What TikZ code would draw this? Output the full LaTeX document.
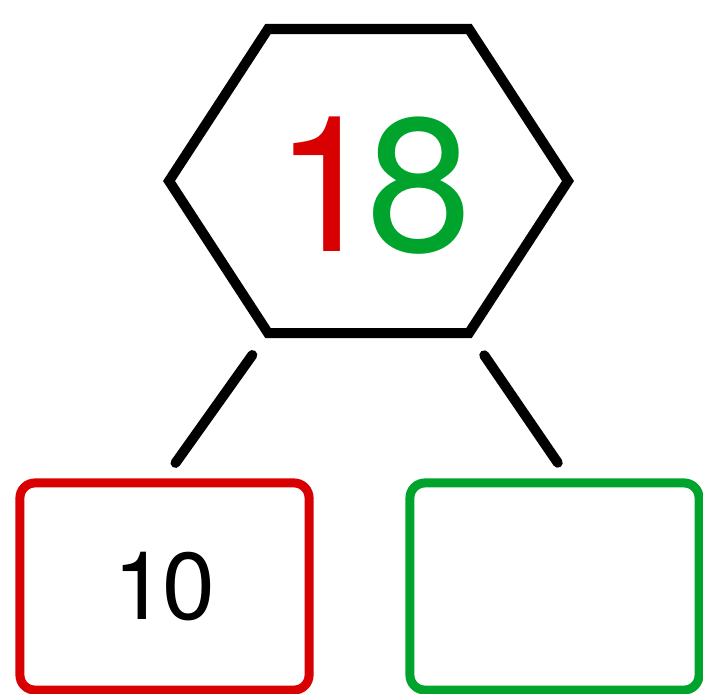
\documentclass[tikz,border=0pt]{standalone}
\usepackage{fontspec}
\setmainfont{TeX Gyre Heros}
\usepackage{tikz}
\usetikzlibrary{calc}
\definecolor{numred}{RGB}{216,0,0}
\definecolor{numgreen}{RGB}{0,164,44}
\tikzstyle{part} = [rectangle, rounded corners=0.15cm, minimum width=2.89cm, minimum height=2.07cm, text centered, line width=0.09cm, font=\fontsize{27}{30}\selectfont]
\tikzstyle{tens} = [part, draw=numred]
\tikzstyle{ones} = [part, draw=numgreen]
\tikzstyle{hexline} = [line width=0.1cm, line join=miter]
\tikzstyle{link} = [line width=0.1cm, line cap=round, shorten <=0.27cm, shorten >=0.19cm]

\begin{document}
\begin{tikzpicture}[x=0.01cm, y=-0.01cm]
	\useasboundingbox (0,0) rectangle (703,694);

	% the whole number
	\node (num) at (373,186) {\fontsize{54}{60}\selectfont\textcolor{numred}{1}\kern-0.07em\textcolor{numgreen}{8}};
	\coordinate (hexl) at (169,181);
	\coordinate (hextl) at (268,29);
	\coordinate (hextr) at (469,29);
	\coordinate (hexr) at (568,181);
	\coordinate (hexbr) at (469,333);
	\coordinate (hexbl) at (268,333);
	\draw [hexline] (hexl) -- (hextl) -- (hextr) -- (hexr) -- (hexbr) -- (hexbl) -- cycle;

	% the two parts
	\node (ten) [tens] at (164.5,586.5) {1\kern-0.04em0};
	\node (unit) [ones] at (554.5,586.5) {};

	\draw [link] (hexbl) -- (ten.north);
	\draw [link] (hexbr) -- ($(unit.north)+(14,0)$);

\end{tikzpicture}
\end{document}
